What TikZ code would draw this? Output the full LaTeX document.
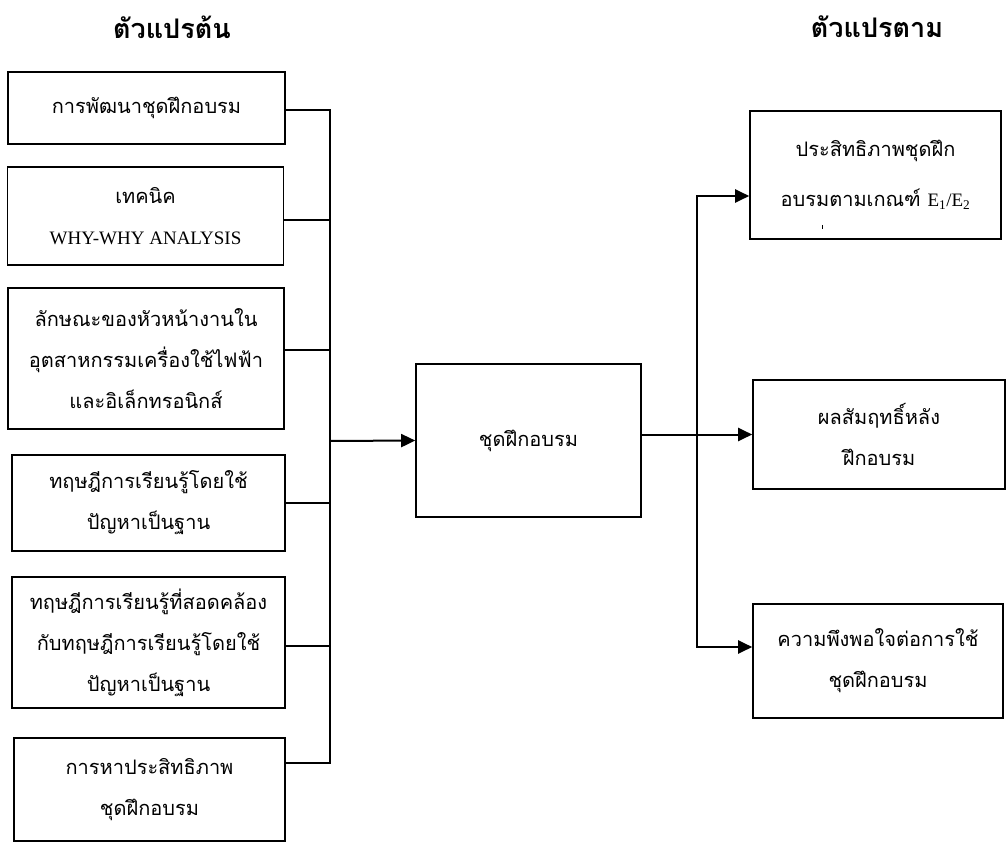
\documentclass[tikz,border=0pt]{standalone}
\usepackage{fontspec}
\setmainfont{Liberation Serif}
\newfontfamily\thaifont[Script=Thai]{Loma}
\usetikzlibrary{arrows.meta}

\begin{document}
\begin{tikzpicture}[x=1pt, y=-1pt,
    box/.style={draw, line width=1.6pt, align=center, inner sep=0pt,
      font=\thaifont\fontsize{20}{41}\selectfont},
    head/.style={font=\thaifont\bfseries\fontsize{27}{30}\selectfont},
    latin/.style={font=\rmfamily\fontsize{19}{41}\selectfont},
    link/.style={line width=2pt},
    arr/.style={link, -{Triangle[length=14pt, width=13pt]}}]

  \useasboundingbox (0,0) rectangle (1008,842);

  \node[head] (hin) at (172,27) {ตัวแปรต้น};
  \node[head] (hout) at (877,27) {ตัวแปรตาม};

  %% independent variables
  \node[box, minimum width=277pt, minimum height=72pt] (b1) at (146.5,108) {การพัฒนาชุดฝึกอบรม};
  \node[box, minimum width=276pt, minimum height=98pt] (b2) at (145.5,216) {เทคนิค\\{\rmfamily\fontsize{19}{41}\selectfont WHY-WHY ANALYSIS}};
  \node[box, minimum width=276pt, minimum height=141pt] (b3) at (146,358.5) {ลักษณะของหัวหน้างานใน\\อุตสาหกรรมเครื่องใช้ไฟฟ้า\\และอิเล็กทรอนิกส์};
  \node[box, minimum width=273pt, minimum height=96pt] (b4) at (148.5,503) {ทฤษฎีการเรียนรู้โดยใช้\\ปัญหาเป็นฐาน};
  \node[box, minimum width=273pt, minimum height=131pt] (b5) at (148.5,642.5) {ทฤษฎีการเรียนรู้ที่สอดคล้อง\\กับทฤษฎีการเรียนรู้โดยใช้\\ปัญหาเป็นฐาน};
  \node[box, minimum width=271pt, minimum height=103pt] (b6) at (149.5,789.5) {การหาประสิทธิภาพ\\ชุดฝึกอบรม};

  \node[box, minimum width=225pt, minimum height=153pt] (mid) at (528.5,440.5) {ชุดฝึกอบรม};

  %% dependent variables
  \node[box, minimum width=251pt, minimum height=128pt] (r1) at (875.5,175) {ประสิทธิภาพชุดฝึก\\[9pt]อบรมตามเกณฑ์ {\rmfamily\fontsize{19}{41}\selectfont E\textsubscript{1}/E\textsubscript{2}}};
  \node[box, minimum width=252pt, minimum height=109pt] (r2) at (879,434.5) {ผลสัมฤทธิ์หลัง\\ฝึกอบรม};
  \node[box, minimum width=250pt, minimum height=114pt] (r3) at (878,661) {ความพึงพอใจต่อการใช้\\ชุดฝึกอบรม};
  \draw[line width=0.8pt] (822,225) -- (822,229);

  \coordinate (bus) at (330,441);
  \coordinate (rbus) at (697,434.5);

  \draw[link] ([yshift=-2pt]b1.east) -| (bus) |- ([yshift=26.5pt]b6.east); %% b1->b6
  \foreach \b/\s in {b2/-4, b3/8.5, b4/0, b5/-3.5}
    \draw[link] ([yshift=\s pt]\b.east) -- ([yshift=\s pt]\b.east -| bus);
  \draw[arr] (bus) -- (mid.west);

  \draw[arr] (mid.east |- r2.west) -- (r2.west); %% mid->r2
  \draw[arr] (rbus) |- ([yshift=-21pt]r1.west);
  \draw[arr] (rbus) |- ([yshift=14pt]r3.west);
\end{tikzpicture}
\end{document}
